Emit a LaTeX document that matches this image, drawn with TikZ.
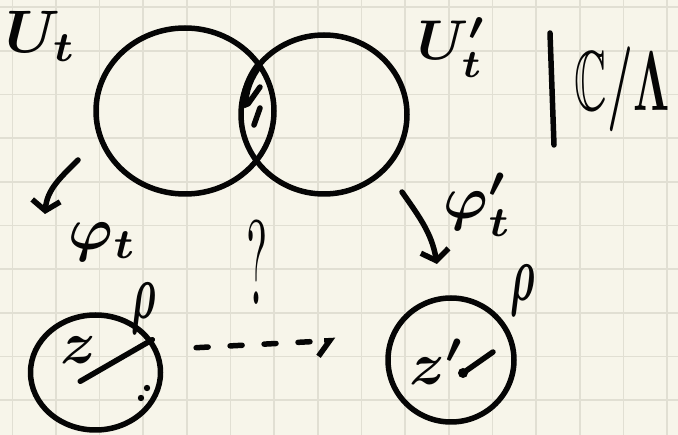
\documentclass[tikz,border=0pt]{standalone}
\usepackage{amsmath}
\usepackage{amssymb}
\usepackage{tikz}
\usetikzlibrary{shapes.geometric, arrows.meta}
\definecolor{paper}{HTML}{F7F5EA}
\definecolor{gridline}{HTML}{E1DFD3}
\definecolor{ink}{HTML}{050505}
\tikzset{
	pen/.style={draw=ink, line width=5.5pt, line cap=round, line join=round},
	openset/.style={pen, ellipse, inner sep=0pt},
	disk/.style={pen, ellipse, inner sep=0pt},
	handlbl/.style={text=ink, inner sep=0pt, font=\boldmath},
	maparrow/.style={pen, -{Straight Barb[length=10pt, width=28pt]}},
}

\begin{document}
\begin{tikzpicture}[x=1pt, y=1pt]
				\useasboundingbox (0,0) rectangle (678,-435);
				\fill[paper] (0,0) rectangle (678,-435);
				\foreach \gx in {0,...,15}
					\draw[gridline, line width=1.6pt] ({12.3+43.65*\gx},0) -- ({12.3+43.65*\gx},-435);
				\foreach \gy in {0,...,9}
					\draw[gridline, line width=1.6pt] (0,{-7.3-43.65*\gy}) -- (678,{-7.3-43.65*\gy});

				\node[openset, minimum width=178pt, minimum height=166pt] (Ut) at (185,-111) {};
				\node[openset, minimum width=166pt, minimum height=159pt] (Utp) at (324,-114.5) {};
				\begin{scope}
					\clip (Ut.center) ellipse [x radius=89, y radius=83];
					\draw[pen, line width=8pt] (260,-64) .. controls (250,-76) and (244,-92) .. (245,-104);
					\draw[pen] (260,-87) -- (248,-104);
					\draw[pen] (260,-108) -- (254,-125);
				\end{scope}

				\node[disk, minimum width=130pt, minimum height=115pt] (zdisk) at (95.5,-372.5) {};
				\node[disk, minimum width=126pt, minimum height=124pt] (zpdisk) at (451,-360) {};
				\draw[pen, shorten <=48pt] (zdisk.210) -- (zdisk.30);
				\fill[ink] (147,-388) circle (3.2);
				\fill[ink] (141,-398) circle (3.2);
				\draw[pen] ([shift={(12,-13)}]zpdisk.center) -- ++(30,21);
				\fill[ink] ([shift={(12,-13)}]zpdisk.center) circle (5);

				\draw[pen] (550,-33) -- (554,-145);

				\node[handlbl, scale=6, anchor=base west] (Utlbl) at (4,-53) {$U_t$};
				\node[handlbl, scale=5.6, anchor=base west] (Utplbl) at (416,-60) {$U_t'$};
				\node[handlbl, scale=6] (philbl) at (103,-242) {$\varphi_t$};
				\node[handlbl, scale=6] (phiplbl) at (478,-205) {$\varphi_t'$};
				\node[handlbl, xscale=4.5, yscale=12] (qlbl) at (257,-262) {?};
				\node[handlbl, scale=6] (zlbl) at (78,-350) {$z$};
				\node[handlbl, scale=6] (zplbl) at (437,-362) {$z'$};
				\node[handlbl, xscale=4, yscale=8] (rholbl) at (144,-309) {$\rho$};
				\node[handlbl, xscale=4, yscale=8] (rhoplbl) at (523,-291) {$\rho$};
				\node[handlbl, xscale=4.5, yscale=8.5] (quotlbl) at (622,-89) {$\mathbb{C}/\Lambda$};

				\coordinate (phiS) at (78,-160);
				\coordinate (phiE) at (45,-214);
				\draw[maparrow] (phiS) to[out=225, in=85] (phiE);
				\coordinate (phipS) at (402,-192);
				\coordinate (phipE) at (437,-264);
				\draw[maparrow] (phipS) to[out=-55, in=100] (phipE);
				\draw[pen, dash pattern=on 12pt off 22pt, -{Straight Barb[right, length=12pt, width=30pt]},
					shorten <=38pt, shorten >=54pt] (zdisk.20) -- (zpdisk.160);
			\end{tikzpicture}
\end{document}
